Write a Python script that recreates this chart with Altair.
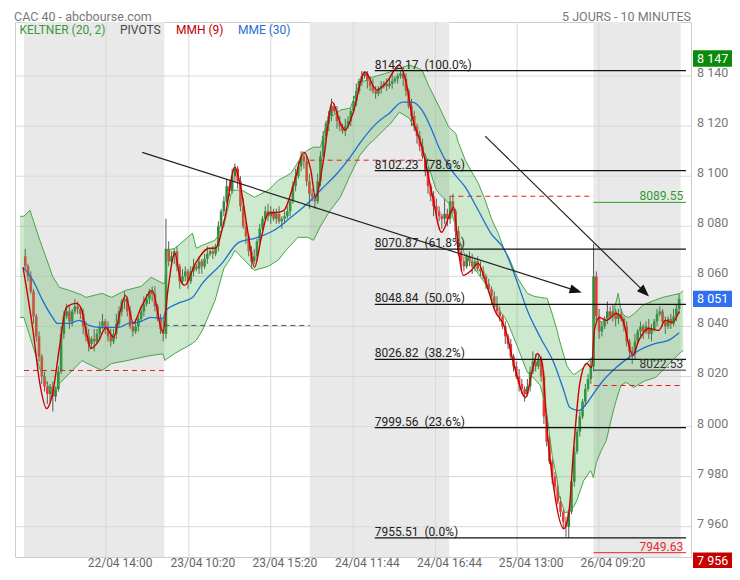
import altair as alt
import pandas as pd

# ---------------- data ----------------
# closes of the 10-minute candles, one list per session
day1_close = [8064, 8060, 8054, 8044, 8036, 8028, 8020, 8016, 8013, 8016,
              8012, 8015, 8022, 8037, 8044, 8046, 8042, 8046, 8048, 8047,
              8045, 8040, 8036, 8033, 8035, 8034, 8037, 8040, 8042, 8040,
              8036, 8034, 8037, 8041, 8046, 8050, 8051, 8046, 8040, 8038,
              8040, 8043, 8046, 8049, 8051, 8054, 8053, 8048, 8043, 8039, 8037]
day2_close = [8071, 8066, 8068, 8070, 8064, 8058, 8060, 8062, 8058, 8062,
              8064, 8063, 8066, 8064, 8067, 8069, 8070, 8069, 8072, 8080,
              8086, 8090, 8096, 8094, 8100, 8103, 8098, 8088, 8080, 8076,
              8070, 8066, 8068, 8074, 8079, 8083, 8086,
              8084, 8086, 8083, 8085, 8082, 8083, 8084, 8086, 8090, 8096,
              8100, 8104, 8108, 8106, 8098, 8093]
day3_close = [8092, 8090, 8098, 8108, 8116, 8121, 8124, 8128, 8126, 8122,
              8120, 8118, 8120, 8122, 8126, 8130, 8134, 8138, 8140, 8141,
              8138, 8136, 8134, 8133, 8135, 8136, 8137, 8136, 8137, 8138,
              8139, 8140, 8141, 8139, 8134, 8128, 8124, 8120, 8116, 8112,
              8108, 8102, 8096, 8092, 8088, 8086, 8084, 8083, 8085, 8083]
day4_close = [8090, 8086, 8078, 8070, 8066, 8064, 8068, 8066, 8064, 8066,
              8063, 8062, 8060, 8057, 8055, 8052, 8049, 8046, 8044, 8040,
              8036, 8033, 8028, 8024, 8020, 8017, 8015, 8013, 8016, 8022,
              8026, 8024, 8027, 8020, 8004, 7994, 7986, 7980, 7976, 7970,
              7966, 7962, 7960, 7966, 7978, 7990, 7998, 8004, 8010, 8015,
              8019, 8024]
day5_close = [8060, 8044, 8038, 8040, 8043, 8046, 8044, 8046, 8043, 8045,
              8043, 8040, 8034, 8030, 8029, 8034, 8038, 8040, 8038, 8040,
              8037, 8039, 8042, 8045, 8046, 8042, 8040, 8043, 8041, 8044,
              8047, 8051]
first_open = 8068

# wick lengths above / below the body (points)
wick_up = ([3, 1, 2, 1, 1, 2, 1, 2, 2, 1, 2, 1, 2, 3, 2, 3, 2, 1, 3, 2, 1, 2, 2, 3, 1, 4, 2, 2, 3, 1,
            2, 3, 2, 4, 2, 1, 3, 1, 2, 2, 3, 1, 2, 3, 2, 1, 2, 3, 1, 2, 4]
           + [12, 3, 2, 1, 2, 1, 3, 2, 1, 2, 3, 1, 2, 1, 2, 3, 1, 2, 1, 2, 1, 2, 3, 2, 3, 2, 1, 2, 3, 2,
              1, 2, 3, 1, 2, 1, 2, 3, 2, 1, 2, 3, 1, 2, 2, 1, 2, 3, 2, 2, 1, 2, 3]
           + [2, 1, 3, 2, 2, 1, 2, 3, 1, 2, 2, 1, 3, 2, 1, 2, 3, 1, 2, 1, 1, 2, 3, 2, 1, 2, 1, 2, 2, 3,
              1, 1, 1.17, 1, 2, 1, 3, 2, 1, 2, 3, 1, 2, 1, 2, 3, 2, 1, 6, 2]
           + [2, 3, 1, 2, 3, 2, 1, 2, 3, 1, 2, 3, 2, 1, 2, 1, 2, 3, 2, 1, 2, 1, 2, 1, 2, 3, 2, 1, 3, 2,
              4, 3, 2, 1, 2, 1, 2, 1, 2, 1, 2, 1, 2, 1, 2, 2, 1, 2, 1, 2, 2, 3]
           + [13, 2, 3, 2, 1, 4, 2, 3, 1, 2, 2, 1, 2, 1, 2, 3, 1, 2, 1, 2, 3, 2, 1, 2, 2, 1, 2, 1, 2, 3,
              2, 2])
wick_dn = ([1, 2, 1, 3, 2, 2, 3, 2, 4, 3, 6, 2, 1, 1, 2, 1, 3, 2, 1, 2, 2, 3, 2, 3, 2, 4, 1, 2, 1, 3,
            2, 2, 1, 2, 1, 2, 3, 2, 1, 2, 1, 2, 1, 2, 1, 2, 3, 2, 1, 2, 3]
           + [2, 2, 1, 3, 2, 3, 1, 2, 3, 1, 2, 1, 2, 3, 1, 2, 1, 2, 1, 2, 1, 2, 1, 2, 1, 2, 3, 2, 1, 3,
              2, 3, 1, 2, 1, 2, 1, 2, 3, 1, 2, 1, 3, 2, 1, 2, 1, 2, 1, 2, 3, 2, 6]
           + [2, 3, 1, 2, 1, 2, 3, 2, 1, 3, 2, 1, 2, 1, 2, 1, 2, 1, 2, 1, 3, 2, 1, 2, 1, 2, 1, 2, 1, 2,
              1, 2, 1, 3, 2, 1, 4, 2, 3, 2, 1, 2, 3, 2, 4, 3, 2, 4, 2, 3]
           + [2, 1, 3, 2, 4, 2, 1, 2, 3, 2, 1, 2, 1, 2, 1, 3, 2, 1, 2, 1, 3, 2, 1, 2, 1, 3, 2, 3, 1, 2,
              1, 2, 1, 2, 3, 2, 1, 3, 2, 1, 2, 3, 4, 4.5, 1, 2, 1, 2, 1, 2, 1, 2]
           + [2, 2, 3, 2, 1, 2, 1, 2, 3, 2, 1, 2, 2, 3, 4, 2, 1, 2, 3, 1, 2, 3, 1, 2, 1, 2, 3, 1, 2, 1,
              2, 2])

# session limits (candle index) and shaded sessions
session_start = [-0.46, 50.4, 103.1, 153.7, 206.0]
session_end = [50.4, 103.1, 153.7, 206.0, 237.6]
session_shaded = [True, False, True, False, True]

# Keltner (20, 2) channel
kel_idx = [-1.9, -0.5, 1.7, 5.3, 8.8, 9.9, 12.4, 16.0, 20.6, 22.0, 27.8, 31.3, 36.3, 42.0, 45.6,
           49.9, 50.6, 51.3, 54.2, 60.6, 62.0, 64.2, 68.8, 72.0, 74.9, 76.0, 78.5, 83.1, 88.1,
           91.7, 94.5, 96.3, 98.8, 99.9, 102.4, 104.5, 107.0, 109.5, 110.6, 114.2, 117.8, 121.3,
           124.9, 125.9, 131.0, 132.0, 135.6, 139.2, 142.8, 143.8, 146.3, 148.8, 149.9, 153.5,
           156.0, 157.0, 159.5, 161.7, 164.2, 166.7, 168.8, 170.2, 171.3, 173.8, 174.9, 178.5,
           182.0, 184.5, 186.7, 188.5, 189.2, 191.0, 192.8, 193.5, 195.6, 196.3, 197.7, 198.8,
           199.9, 202.4, 204.9, 205.3, 205.9, 206.1, 207.0, 208.8, 210.6, 213.1, 214.2, 214.9,
           215.9, 216.7, 217.7, 218.8, 220.6, 223.8, 224.9, 228.5, 231.0, 234.5, 237.4, 238.5]
kel_up = [8084.0, 8084.0, 8086.4, 8074.4, 8063.6, 8060.0, 8055.6, 8054.4, 8052.5, 8051.6, 8053.2,
          8051.6, 8054.4, 8056.0, 8059.6, 8057.2, 8057.2, 8070.4, 8071.2, 8077.2, 8071.2, 8072.4,
          8074.4, 8080.0, 8094.4, 8094.4, 8094.4, 8091.6, 8094.4, 8098.4, 8100.0, 8101.2, 8105.5,
          8107.6, 8110.5, 8111.6, 8111.6, 8122.4, 8123.5, 8126.4, 8127.2, 8137.2, 8139.0, 8139.6,
          8141.2, 8141.6, 8143.2, 8144.4, 8143.0, 8142.4, 8136.0, 8130.4, 8128.0, 8119.6, 8117.2,
          8113.5, 8106.4, 8102.0, 8097.2, 8090.5, 8083.6, 8080.0, 8077.6, 8070.0, 8068.4, 8059.2,
          8053.2, 8052.0, 8051.6, 8051.3, 8051.2, 8045.0, 8038.4, 8035.0, 8027.0, 8024.4, 8022.0,
          8020.8, 8021.5, 8023.6, 8027.0, 8027.6, 8027.8, 8043.2, 8043.0, 8041.6, 8043.0, 8045.2,
          8050.0, 8053.2, 8047.0, 8044.8, 8044.0, 8043.6, 8045.0, 8048.4, 8049.0, 8050.6, 8051.6,
          8052.5, 8053.2, 8054.4]
kel_lo = [8043.6, 8043.6, 8036.0, 8023.0, 8015.0, 8013.2, 8017.2, 8021.2, 8026.4, 8025.5, 8022.4,
          8025.2, 8026.2, 8027.6, 8028.4, 8029.0, 8026.4, 8027.0, 8029.2, 8033.2, 8034.5, 8038.4,
          8050.4, 8063.2, 8068.0, 8070.4, 8067.5, 8062.4, 8064.0, 8066.5, 8070.4, 8072.5, 8075.6,
          8075.6, 8075.6, 8074.4, 8080.0, 8084.5, 8086.4, 8091.6, 8100.4, 8108.4, 8113.2, 8114.0,
          8119.6, 8120.5, 8125.6, 8123.2, 8115.6, 8112.0, 8103.6, 8095.0, 8093.2, 8089.2, 8080.0,
          8075.6, 8068.0, 8065.2, 8061.0, 8057.2, 8052.0, 8048.4, 8047.0, 8043.6, 8041.5, 8031.6,
          8021.6, 8019.2, 8016.4, 8008.4, 8004.0, 7988.4, 7979.0, 7972.4, 7965.6, 7965.8, 7966.4,
          7968.0, 7970.4, 7978.4, 7982.4, 7981.5, 7979.6, 7980.5, 7985.6, 7990.5, 7994.4, 8006.0,
          8010.4, 8013.0, 8016.4, 8017.0, 8017.6, 8017.0, 8015.6, 8017.8, 8018.4, 8019.6, 8022.4,
          8026.4, 8029.5, 8030.4]

# MME (30)
mme_idx = [-0.8, 2.8, 6.3, 9.9, 11.7, 16.0, 19.5, 23.1, 26.7, 33.8, 37.4, 41.0, 45.6, 49.9, 51.0,
           55.3, 60.6, 64.2, 71.3, 77.4, 83.1, 90.2, 96.3, 102.4, 107.0, 113.1, 117.8, 121.3,
           127.4, 132.0, 136.7, 140.3, 143.8, 147.4, 149.9, 154.5, 159.5, 164.2, 168.8, 173.8,
           178.5, 182.0, 186.7, 191.7, 195.2, 197.4, 200.6, 203.5, 206.0, 209.5, 214.2, 218.8,
           222.4, 228.5, 233.1, 237.0]
mme_val = [8063.6, 8058.4, 8050.4, 8043.6, 8041.2, 8041.2, 8042.4, 8040.4, 8039.6, 8039.6, 8041.2,
           8041.6, 8043.6, 8043.2, 8046.4, 8049.2, 8051.6, 8057.2, 8065.2, 8073.6, 8075.2, 8078.4,
           8083.6, 8089.2, 8094.4, 8101.2, 8107.6, 8113.2, 8121.2, 8125.2, 8129.6, 8129.6, 8126.4,
           8118.4, 8111.6, 8102.4, 8095.6, 8086.4, 8077.2, 8070.4, 8057.2, 8046.4, 8035.6, 8025.2,
           8014.4, 8007.6, 8006.4, 8009.2, 8013.2, 8018.4, 8023.6, 8027.6, 8030.4, 8033.2, 8034.4,
           8037.5]

# MMH (9)
mmh_idx = [-0.8, 2.8, 5.3, 7.8, 9.9, 12.4, 14.9, 18.5, 20.3, 22.0, 23.8, 26.7, 29.2, 32.0, 34.5,
           36.3, 39.2, 42.0, 46.0, 49.9, 51.7, 54.2, 56.3, 57.8, 61.7, 66.7, 68.8, 72.4, 76.0,
           77.8, 81.0, 83.1, 85.6, 88.1, 91.7, 93.8, 97.4, 101.0, 103.5, 105.2, 108.1, 111.3,
           114.2, 115.9, 118.8, 123.1, 127.4, 131.0, 135.6, 138.1, 140.3, 143.8, 147.4, 150.9,
           153.5, 155.3, 157.0, 158.8, 161.7, 164.2, 166.7, 170.2, 173.8, 177.4, 181.3, 183.8,
           185.6, 187.4, 189.2, 191.7, 195.2, 197.0, 198.8, 201.0, 203.5, 205.3, 206.3, 208.1,
           210.6, 214.2, 216.6, 220.2, 222.4, 226.0, 229.6, 232.0, 234.5, 237.0]
mmh_val = [8063.6, 8038.4, 8017.2, 8007.2, 8013.2, 8031.6, 8047.6, 8049.2, 8047.2, 8038.4, 8031.2,
           8034.4, 8039.6, 8035.6, 8046.4, 8052.4, 8041.2, 8047.6, 8054.4, 8037.6, 8054.4, 8069.2,
           8058.4, 8056.4, 8065.2, 8071.2, 8071.2, 8083.6, 8103.6, 8097.2, 8075.6, 8063.6, 8075.6,
           8085.2, 8085.6, 8086.4, 8097.2, 8109.6, 8102.4, 8091.6, 8106.4, 8129.6, 8121.2, 8118.4,
           8125.2, 8141.6, 8134.4, 8137.6, 8144.4, 8137.2, 8123.6, 8111.6, 8093.2, 8077.6, 8083.6,
           8087.6, 8070.4, 8060.4, 8062.4, 8065.2, 8058.4, 8046.4, 8039.6, 8023.6, 8011.6, 8022.4,
           8029.2, 8025.2, 7998.4, 7974.4, 7959.2, 7965.2, 7991.6, 8017.2, 8025.2, 8023.6, 8038.4,
           8043.6, 8042.4, 8045.2, 8042.4, 8028.4, 8034.4, 8039.2, 8038.4, 8042.4, 8041.6, 8046.0]

# pivots, one per session
pivot_level = [8022.4, 8040.4, 8106.4, 8092.0, 8016.4]
pivot_color = ["#e02020", "#555555", "#e02020", "#e02020", "#e02020"]

# Fibonacci retracement
fib_level = [8142.17, 8102.23, 8070.87, 8048.84, 8026.82, 7999.56, 7955.51]
fib_pct = ["100.0%", "78.6%", "61.8%", "50.0%", "38.2%", "23.6%", "0.0%"]
fib_from = 126.7

# reference levels on the last session
ref_level = [8089.55, 8022.53, 7949.63]
ref_color = ["#2e9a2e", "#333333", "#e52b2b"]

# trend arrows (start, head)
arrow_x0 = [42.4, 166.7]
arrow_y0 = [8109.5, 8116.0]
arrow_x1 = [199.6, 224.5]
arrow_y1 = [8054.3, 8053.7]
arrow_angle = [17.3, 43.9]

# axis ticks
x_tick_idx = [29.3, 59.3, 89.0, 118.9, 148.7, 178.3, 207.9]
x_tick_lab = ["22/04 14:00", "23/04 10:20", "23/04 15:20", "24/04 11:44",
              "24/04 16:44", "25/04 13:00", "26/04 09:20"]
y_ticks = [7960, 7980, 8000, 8020, 8040, 8060, 8080, 8100, 8120, 8140]

# price tags
tag_value = [8147, 8051, 7956]
tag_text = ["8 147", "8 051", "7 956"]
tag_color = ["#0a8a0a", "#2f6ff0", "#c40000"]
tag_shift = [0, 0, 24]

# ---------------- build ----------------
W, H = 676, 535
FONT = "Roboto"
xs = alt.Scale(domain=[-1.9, 239.5], nice=False, zero=False)
ys = alt.Scale(domain=[7947.9, 8161.6], nice=False, zero=False)


def X(f):
    return alt.X(f, type="quantitative", scale=xs, axis=None)


def Y(f):
    return alt.Y(f, type="quantitative", scale=ys, axis=None)


closes = day1_close + day2_close + day3_close + day4_close + day5_close
opens = [first_open] + closes[:-1]
candles = pd.DataFrame({
    "idx": list(range(len(closes))),
    "open": opens,
    "close": closes,
})
candles["high"] = [max(o, c) + u for o, c, u in zip(opens, closes, wick_up)]
candles["low"] = [min(o, c) - d for o, c, d in zip(opens, closes, wick_dn)]

sessions = pd.DataFrame({"s": session_start, "e": session_end, "shade": session_shaded})
shaded = sessions[sessions["shade"]]

kel = pd.DataFrame({"idx": kel_idx, "up": kel_up, "lo": kel_lo})
mme = pd.DataFrame({"idx": mme_idx, "v": mme_val})
mmh = pd.DataFrame({"idx": mmh_idx, "v": mmh_val})
piv = pd.DataFrame({"s": session_start, "e": session_end, "v": pivot_level, "c": pivot_color})
fib = pd.DataFrame({"v": fib_level,
                    "lab": [f"{v:.2f} \u00a0({p})" for v, p in zip(fib_level, fib_pct)],
                    "s": fib_from, "e": 239.5})
ref = pd.DataFrame({"v": ref_level, "c": ref_color, "lab": [f"{v:.2f}" for v in ref_level],
                    "s": session_start[-1], "e": 239.5, "t": 238.5})
arr = pd.DataFrame({"x0": arrow_x0, "y0": arrow_y0, "x1": arrow_x1, "y1": arrow_y1,
                    "a": arrow_angle})
xt = pd.DataFrame({"idx": x_tick_idx, "lab": x_tick_lab})
yt = pd.DataFrame({"v": y_ticks, "lab": [f"{v:,}".replace(",", " ") for v in y_ticks]})
tags = pd.DataFrame({"v": tag_value, "lab": tag_text, "c": tag_color, "sh": tag_shift})

GRID = "#d9d9d9"

bg = alt.Chart(shaded).mark_rect(color="#e9e9e9").encode(
    x=X("s"), x2="e", y=alt.value(0), y2=alt.value(H))
ygrid = alt.Chart(yt).mark_rule(color=GRID, strokeWidth=1).encode(y=Y("v"))
xgrid = alt.Chart(xt).mark_rule(color=GRID, strokeWidth=1).encode(x=X("idx"))

wicks = alt.Chart(candles).mark_rule(color="#555555", strokeWidth=1).encode(
    x=X("idx"), y=Y("low"), y2="high")
bodies = alt.Chart(candles).mark_bar(size=2.6).encode(
    x=X("idx"), y=Y("open"), y2="close",
    color=alt.condition("datum.close >= datum.open", alt.value("#2a8a3c"), alt.value("#f03535")))

band = alt.Chart(kel).mark_area(color="#4caf50", opacity=0.28).encode(
    x=X("idx"), y=Y("up"), y2="lo")
band_up = alt.Chart(kel).mark_line(color="#4aa34a", strokeWidth=1).encode(x=X("idx"), y=Y("up"))
band_lo = alt.Chart(kel).mark_line(color="#4aa34a", strokeWidth=1).encode(x=X("idx"), y=Y("lo"))

pivots = alt.Chart(piv).mark_rule(strokeDash=[5, 4], strokeWidth=1).encode(
    x=X("s"), x2="e", y=Y("v"), color=alt.Color("c:N", scale=None))

mme_line = alt.Chart(mme).mark_line(color="#1f6fd1", strokeWidth=1.3,
                                     interpolate="monotone").encode(x=X("idx"), y=Y("v"))
mmh_line = alt.Chart(mmh).mark_line(color="#cc0000", strokeWidth=1.4,
                                     interpolate="monotone").encode(x=X("idx"), y=Y("v"))

fib_lines = alt.Chart(fib).mark_rule(color="#111111", strokeWidth=1.2).encode(
    x=X("s"), x2="e", y=Y("v"))
fib_text = alt.Chart(fib).mark_text(align="left", baseline="alphabetic", dy=-2, font=FONT,
                                    fontSize=12, color="#222222").encode(
    x=X("s"), y=Y("v"), text="lab")

ref_lines = alt.Chart(ref).mark_rule(strokeWidth=1).encode(
    x=X("s"), x2="e", y=Y("v"), color=alt.Color("c:N", scale=None))
ref_text = alt.Chart(ref).mark_text(align="right", baseline="alphabetic", dy=-2, font=FONT,
                                    fontSize=12).encode(
    x=X("t"), y=Y("v"), text="lab", color=alt.Color("c:N", scale=None))

arrow_lines = alt.Chart(arr).mark_rule(color="#222222", strokeWidth=1.2).encode(
    x=X("x0"), y=Y("y0"), x2="x1", y2="y1")
arrow_heads = alt.Chart(arr).mark_point(shape="M1,0L-1,-0.75L-1,0.75Z", size=150, filled=True,
                                        opacity=1, color="#111111").encode(
    x=X("x1"), y=Y("y1"), angle=alt.Angle("a:Q", scale=None))

x_labels = alt.Chart(xt).mark_text(font=FONT, fontSize=12, color="#666666", dx=14,
                                   baseline="middle").encode(
    x=X("idx"), y=alt.value(H + 5.5), text="lab")
y_labels = alt.Chart(yt).mark_text(font=FONT, fontSize=12.5, color="#777777", align="left",
                                   baseline="middle", dy=-3).encode(
    x=alt.value(682), y=Y("v"), text="lab")

tag_boxes = [
    alt.Chart(tags.iloc[[i]]).mark_point(shape="M-1,-0.35L1,-0.35L1,0.35L-1,0.35Z", size=2209,
                                         filled=True, opacity=1, strokeWidth=0,
                                         color=tag_color[i], yOffset=tag_shift[i]).encode(
        x=alt.value(701.5), y=Y("v"))
    for i in range(len(tag_value))
]
tag_labels = [
    alt.Chart(tags.iloc[[i]]).mark_text(align="left", baseline="middle", font=FONT,
                                        fontSize=12.5, color="white",
                                        dy=tag_shift[i]).encode(
        x=alt.value(682), y=Y("v"), text="lab")
    for i in range(len(tag_value))
]

head_text = ["CAC 40 - abcbourse.com", "5 JOURS - 10 MINUTES", "KELTNER (20, 2)", "PIVOTS",
             "MMH (9)", "MME (30)"]


def label(txt, x, y, color, align="left", size=12):
    return alt.Chart(pd.DataFrame({"t": [txt]})).mark_text(
        align=align, baseline="middle", font=FONT, fontSize=size, color=color).encode(
        x=alt.value(x), y=alt.value(y), text="t")


heads = [
    label(head_text[0], -1, -5.5, "#777777", size=12.5),
    label(head_text[1], 676, -5.5, "#777777", align="right", size=12.5),
    label(head_text[2], 4.5, 7.5, "#3a9a3a"),
    label(head_text[3], 105, 7.5, "#444444"),
    label(head_text[4], 161, 7.5, "#c00000"),
    label(head_text[5], 223, 7.5, "#1f6fd1"),
]

chart = alt.layer(
    bg, ygrid, xgrid, wicks, bodies, band, band_up, band_lo, pivots, mme_line, mmh_line,
    fib_lines, fib_text, ref_lines, ref_text, arrow_lines, arrow_heads, x_labels, y_labels,
    *tag_boxes, *tag_labels, *heads
).properties(
    width=W, height=H,
    padding={"left": 7, "top": 14, "right": 41, "bottom": 11},
    autosize=alt.AutoSizeParams(type="none"),
).configure_view(stroke="#cccccc", strokeWidth=1)

chart.save("out.html", embed_options={"renderer": "svg", "actions": False})
